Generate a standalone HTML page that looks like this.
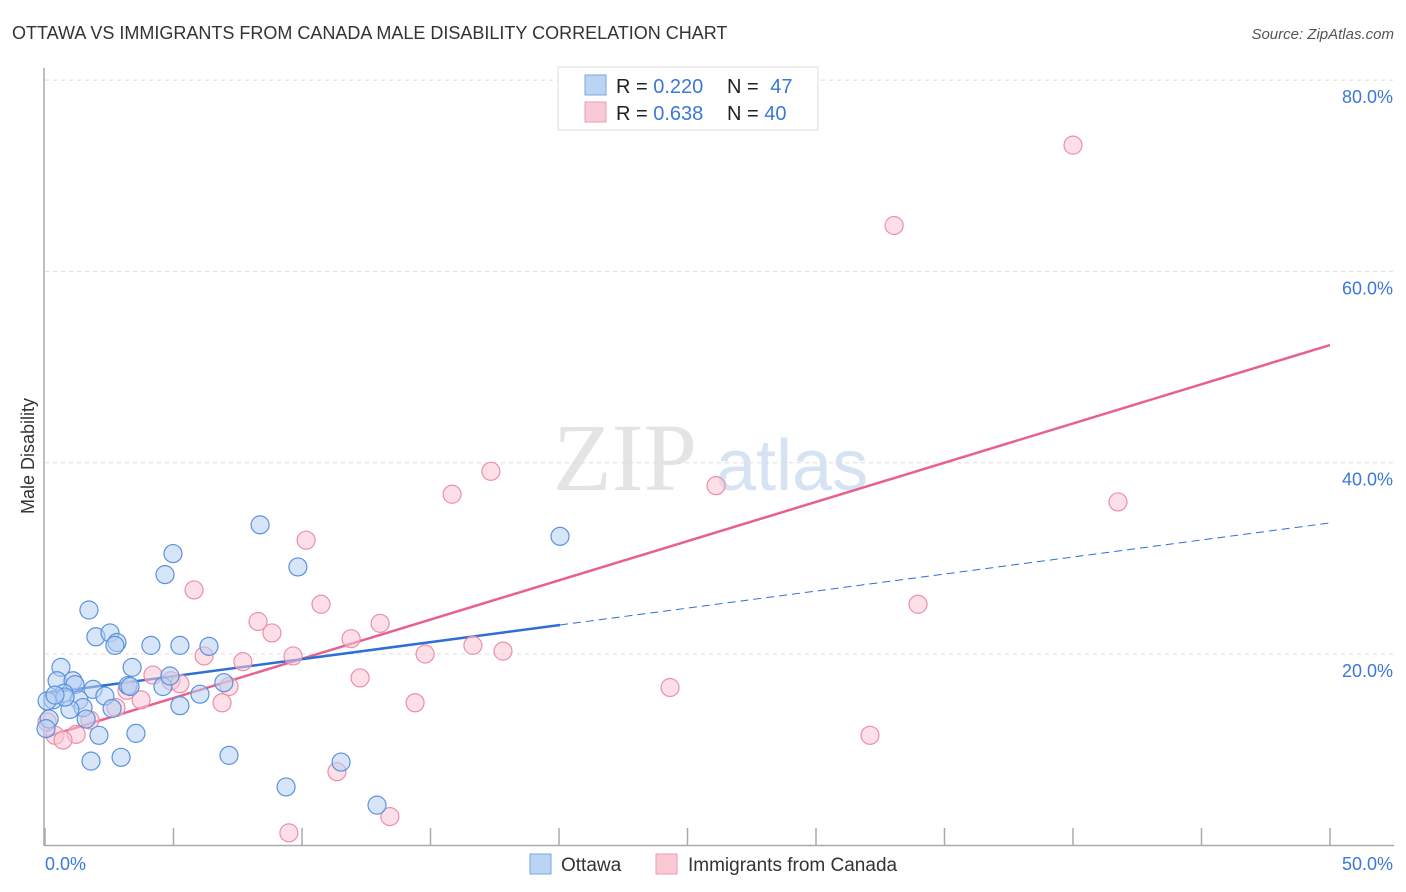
<!DOCTYPE html>
<html><head><meta charset="utf-8"><style>
body{margin:0;background:#fff;font-family:"Liberation Sans",sans-serif;}
svg{display:block}
</style></head><body>
<svg id="chart" width="1406" height="892" viewBox="0 0 1406 892" xmlns="http://www.w3.org/2000/svg">
<text x="12" y="39" font-size="18" fill="#333">OTTAWA VS IMMIGRANTS FROM CANADA MALE DISABILITY CORRELATION CHART</text>
<text x="1394" y="39" font-size="15" fill="#555" text-anchor="end" font-style="italic">Source: ZipAtlas.com</text>
<g>
<text x="553" y="490" font-size="96" font-family="Liberation Serif,serif" fill="#e4e4e4">ZIP</text>
<text x="716" y="490" font-size="72" fill="#d6e3f3">atlas</text>
</g>
<g id="grid"></g>
<g id="axes"></g>
<text transform="translate(34,456) rotate(-90)" font-size="18" fill="#333" text-anchor="middle">Male Disability</text>
<g id="trend"></g>
<g id="pts"></g>
<g>
<rect x="558" y="67" width="260" height="63" fill="#fff" stroke="#ddd"/>
<rect x="585" y="75" width="21" height="20" fill="#bcd4f4" stroke="#7aa6e6"/>
<rect x="585" y="102" width="21" height="20" fill="#f9c9d6" stroke="#ee9ab2"/>
<text x="616" y="93" font-size="20" fill="#222">R = <tspan fill="#3b78d8">0.220</tspan></text>
<text x="727" y="93" font-size="20" fill="#222">N = <tspan fill="#3b78d8" dx="6">47</tspan></text>
<text x="616" y="120" font-size="20" fill="#222">R = <tspan fill="#3b78d8">0.638</tspan></text>
<text x="727" y="120" font-size="20" fill="#222">N = <tspan fill="#3b78d8">40</tspan></text>
</g>
<g>
<rect x="530" y="854" width="21" height="20" fill="#bcd4f4" stroke="#7aa6e6"/>
<text x="561" y="871" font-size="19" fill="#333">Ottawa</text>
<rect x="656" y="854" width="21" height="20" fill="#f9c9d6" stroke="#ee9ab2"/>
<text x="688" y="871" font-size="19" fill="#333">Immigrants from Canada</text>
</g>
</svg>
<script>
const ottawaX=[8.37,4.98,4.67,9.84,20.04,1.71,1.98,2.53,2.80,2.72,4.12,5.25,6.38,0.62,3.39,0.47,1.09,1.17,1.87,0.74,2.33,0.31,1.32,0.08,1.48,0.97,2.61,3.23,4.59,4.86,6.03,5.25,6.96,1.60,0.16,0.04,2.10,3.54,1.79,2.96,7.16,11.52,9.38,12.92,3.31,0.78,0.39];
const ottawaY=[33.5,30.5,28.3,29.1,32.3,24.6,21.8,22.2,21.2,20.9,20.9,20.9,20.8,18.6,18.6,17.2,17.2,16.8,16.3,15.9,15.6,15.2,15.2,15.1,14.4,14.2,14.3,16.7,16.6,17.7,15.8,14.6,17.0,13.2,13.2,12.2,11.5,11.7,8.8,9.2,9.4,8.7,6.1,4.2,16.6,15.5,15.7];
const immX=[40.0,33.04,17.35,15.84,26.11,41.75,10.16,5.80,10.74,33.97,8.29,8.83,11.91,13.04,16.65,17.82,6.19,7.70,9.65,14.79,4.20,12.26,4.90,5.25,7.16,3.19,24.32,3.74,6.89,14.40,2.76,1.75,1.21,0.39,0.70,0.08,32.10,11.36,9.49,13.42];
const immY=[73.2,64.8,39.1,36.7,37.6,35.9,31.9,26.7,25.2,25.2,23.4,22.2,21.6,23.2,20.9,20.3,19.8,19.2,19.8,20.0,17.8,17.5,17.2,16.9,16.6,16.2,16.5,15.2,14.9,14.9,14.4,13.1,11.6,11.5,11.0,12.9,11.5,7.7,1.3,3.0];
const yTicks=[20,40,60,80];
const yTickLabels=["20.0%","40.0%","60.0%","80.0%"];
const xTicks=[0,5,10,15,20,25,30,35,40,45,50];
const ottawaTrend=[15.9,33.7]; // value at x=0 and x=50
const immTrend=[11.3,52.3];
const ottawaSolidEnd=20.04;

const NS="http://www.w3.org/2000/svg";
const sx=v=>45+v*25.7;
const sy=v=>845.3-v*9.565;
function mk(tag,attrs,parent){const e=document.createElementNS(NS,tag);for(const k in attrs)e.setAttribute(k,attrs[k]);parent.appendChild(e);return e;}
const grid=document.getElementById('grid'),axes=document.getElementById('axes'),trend=document.getElementById('trend'),pts=document.getElementById('pts');
yTicks.forEach((t,i)=>{
 const l=mk('line',{x1:45,x2:1394,y1:sy(t),y2:sy(t),stroke:'#ddd','stroke-dasharray':'4,4'},grid);
 
 
 const tx=mk('text',{x:1393,y:sy(t)+23,'font-size':18,fill:'#3b78d8','text-anchor':'end'},axes);
 tx.textContent=yTickLabels[i];
 
 
});
const ax=mk('line',{x1:44,x2:44,y1:68,y2:846,stroke:'#aaa','stroke-width':1.5},axes);


const bx=mk('line',{x1:44,x2:1394,y1:845.5,y2:845.5,stroke:'#aaa','stroke-width':1.5},axes);


xTicks.forEach(t=>{
 const l=mk('line',{x1:sx(t),x2:sx(t),y1:828,y2:845,stroke:'#aaa','stroke-width':1.5},axes);
 
 
});
const x0=mk('text',{x:45,y:870,'font-size':18,fill:'#3b78d8'},axes);x0.textContent='0.0%';


const x1=mk('text',{x:1393,y:870,'font-size':18,fill:'#3b78d8','text-anchor':'end'},axes);x1.textContent='50.0%';



function drawPts(xs,ys,fill,stroke,name){
 xs.forEach((x,i)=>{
  const c=mk('circle',{cx:sx(x),cy:sy(ys[i]),r:9,fill:fill,'fill-opacity':0.55,stroke:stroke,'stroke-width':1.2},pts);
  
  
 });
}
drawPts(immX,immY,'#f9c4d3','#ec8fab','immigrants-point');
drawPts(ottawaX,ottawaY,'#b7d0f2','#5b92de','ottawa-point');

const lt=v=>ottawaTrend[0]+(ottawaTrend[1]-ottawaTrend[0])*v/50;
const it=v=>immTrend[0]+(immTrend[1]-immTrend[0])*v/50;
let e=mk('line',{x1:sx(0),y1:sy(it(0)),x2:sx(50),y2:sy(it(50)),stroke:'#e8608c','stroke-width':2.5},trend);


e=mk('line',{x1:sx(0),y1:sy(lt(0)),x2:sx(ottawaSolidEnd),y2:sy(lt(ottawaSolidEnd)),stroke:'#2d6fd6','stroke-width':2.5},trend);


e=mk('line',{x1:sx(ottawaSolidEnd),y1:sy(lt(ottawaSolidEnd)),x2:sx(50),y2:sy(lt(50)),stroke:'#2d6fd6','stroke-width':1,'stroke-dasharray':'8,5'},trend);


</script>
</body></html>
